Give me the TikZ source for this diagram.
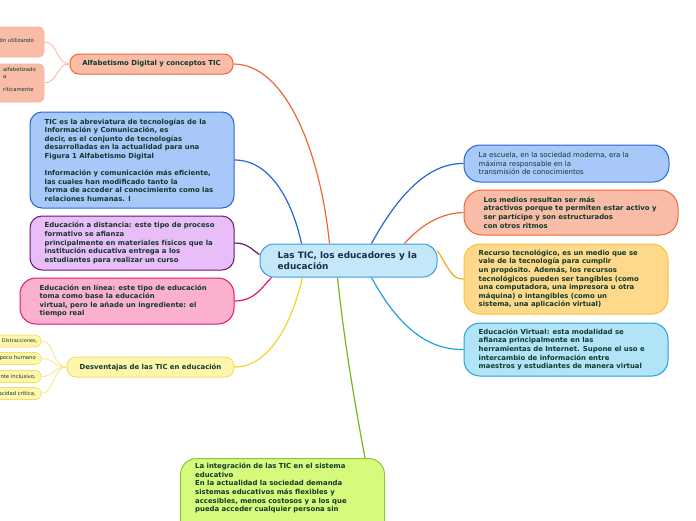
\documentclass[tikz,border=0pt]{standalone}
\usepackage{fontspec}
\setmainfont{DejaVu Sans}
\definecolor{txtc}{HTML}{0F3A2B}
\definecolor{navy}{HTML}{1C2C4C}
\definecolor{salF}{HTML}{F9BCA7}
\definecolor{salB}{HTML}{F26535}
\definecolor{salL}{HTML}{F8B39C}
\definecolor{bluF}{HTML}{A8C8FA}
\definecolor{bluB}{HTML}{2468D6}
\definecolor{purF}{HTML}{E9BDF7}
\definecolor{purB}{HTML}{651A70}
\definecolor{pnkF}{HTML}{FCB0D0}
\definecolor{pnkB}{HTML}{E2156E}
\definecolor{yelF}{HTML}{FFF6AE}
\definecolor{yelB}{HTML}{F3DE6C}
\definecolor{yelC}{HTML}{EED630}
\definecolor{yelL}{HTML}{F6E68E}
\definecolor{cenF}{HTML}{C4E8FA}
\definecolor{cenB}{HTML}{3A9CE0}
\definecolor{orgF}{HTML}{FED98B}
\definecolor{orgB}{HTML}{F6C233}
\definecolor{orgC}{HTML}{F5A623}
\definecolor{cyaF}{HTML}{B2E4F8}
\definecolor{cyaB}{HTML}{1FA1DE}
\definecolor{grnF}{HTML}{D6FA7B}
\definecolor{grnB}{HTML}{8CC63F}
\definecolor{grnC}{HTML}{7AB51D}
\tikzset{
  box/.style={rounded corners=12pt, line width=1pt, inner sep=0pt},
  pill/.style={rounded corners=9pt, line width=1pt, inner sep=0pt},
  small/.style={rounded corners=5pt, line width=0.7pt, inner sep=0pt},
  btxt/.style={font=\bfseries\fontsize{6.9}{8.6}\selectfont, text=txtc, align=left, inner sep=0pt},
  rtxt/.style={font=\fontsize{7}{8.6}\selectfont, text=txtc, align=left, inner sep=0pt},
  stxt/.style={font=\fontsize{5.3}{7}\selectfont, text=txtc, align=right, inner sep=0pt},
  conn/.style={line width=1.2pt},
  thin/.style={line width=0.8pt},
}
\begin{document}
\begin{tikzpicture}[x=1pt,y=-1pt]
\useasboundingbox (0,0) rectangle (696,520);
\clip (0,0) rectangle (696,520);
\fill[white] (0,0) rectangle (696,520);

% central
\node[box, rounded corners=14pt, fill=cenF, draw=cenB, minimum width=177, minimum height=33] (c) at (348.5,260.5) {};
\node[font=\bfseries\fontsize{8.9}{11}\selectfont, text=navy, align=left, inner sep=0pt, anchor=west] (ct) at ([xshift=18pt]c.west) {Las TIC, los educadores y la\\educación};

% top-left
\node[pill, fill=salF, draw=salB, minimum width=163, minimum height=20] (alf) at (151.5,64) {};
\node[btxt] (alft) at (alf.center) {Alfabetismo Digital y conceptos TIC};
\node[small, fill=salF, draw=salL, minimum width=70, minimum height=30] (a1) at (9,42) {};
\node[stxt, anchor=east] (a1t) at (34,40) {ón utilizando};
\node[small, fill=salF, draw=salL, minimum width=70, minimum height=38] (a2) at (9,83) {};
\node[stxt, anchor=north east, align=left] (a2t) at (36,67) {alfabetizado\\a\\[6pt]ríticamente};
\draw[thin, salL] (alf.west) .. controls (56,64) and (58,42) .. (a1.east);
\draw[thin, salL] (alf.west) .. controls (56,64) and (58,83) .. (a2.east);

% left boxes
\node[box, fill=bluF, draw=bluB, minimum width=204, minimum height=96] (tic) at (132,160) {};
\node[btxt, anchor=west] (tict) at ([xshift=15pt]tic.west) {TIC es la abreviatura de tecnologías de la\\Información y Comunicación, es\\decir, es el conjunto de tecnologías\\desarrolladas en la actualidad para una\\Figura 1 Alfabetismo Digital\\[8.6pt]Información y comunicación más eficiente,\\las cuales han modificado tanto la\\forma de acceder al conocimiento como las\\relaciones humanas. l};

\node[box, fill=purF, draw=purB, minimum width=204, minimum height=54] (dis) at (132,243) {};
\node[btxt, anchor=west] (dist) at ([xshift=15pt]dis.west) {Educación a distancia: este tipo de proceso\\formativo se afianza\\principalmente en materiales físicos que la\\institución educativa entrega a los\\estudiantes para realizar un curso};

\node[box, rounded corners=16pt, fill=pnkF, draw=pnkB, minimum width=214, minimum height=46] (lin) at (127,301) {};
\node[btxt, anchor=west] (lint) at ([xshift=20pt]lin.west) {Educación en línea: este tipo de educación\\toma como base la educación\\virtual, pero le añade un ingrediente: el\\tiempo real};

% desventajas
\node[pill, fill=yelF, draw=yelB, minimum width=167, minimum height=20] (des) at (150.5,367) {};
\node[btxt] (dest) at (des.center) {Desventajas de las TIC en educación};
\node[small, fill=yelF, draw=yelB, minimum width=60, minimum height=12] (d1) at (11,341) {};
\node[stxt, anchor=east, font=\fontsize{5}{7}\selectfont] (d1t) at (37.5,341) {Distracciones,};
\node[small, fill=yelF, draw=yelB, minimum width=60, minimum height=12] (d2) at (11,358.5) {};
\node[stxt, anchor=east] (d2t) at (36,358.5) {poco humano};
\node[small, fill=yelF, draw=yelB, minimum width=60, minimum height=12] (d3) at (11,376.5) {};
\node[stxt, anchor=east] (d3t) at (36,376.5) {nte inclusivo,};
\node[small, fill=yelF, draw=yelB, minimum width=60, minimum height=12] (d4) at (11,393.5) {};
\node[stxt, anchor=east] (d4t) at (36,393.5) {acidad crítica,};
\draw[thin, yelL] (des.west) .. controls (52,367) and (55,341) .. (d1.east);
\draw[thin, yelL] (des.west) .. controls (52,367) and (55,358.5) .. (d2.east);
\draw[thin, yelL] (des.west) .. controls (52,367) and (55,376.5) .. (d3.east);
\draw[thin, yelL] (des.west) .. controls (52,367) and (55,393.5) .. (d4.east);

% right boxes
\node[box, rounded corners=16pt, fill=bluF, draw=bluB, minimum width=205, minimum height=37] (r1) at (566.5,163.5) {};
\node[rtxt, anchor=west] (r1t) at ([xshift=15pt]r1.west) {La escuela, en la sociedad moderna, era la\\máxima responsable en la\\transmisión de conocimientos};

\node[box, rounded corners=18pt, fill=salF, draw=salB, minimum width=214, minimum height=45] (r2) at (571,212.5) {};
\node[btxt, anchor=west] (r2t) at ([xshift=20pt]r2.west) {Los medios resultan ser más\\atractivos porque te permiten estar activo y\\ser partícipe y son estructurados\\con otros ritmos};

\node[box, rounded corners=16pt, fill=orgF, draw=orgB, minimum width=204, minimum height=70] (r3) at (566,279) {};
\node[btxt, anchor=west] (r3t) at ([xshift=15pt]r3.west) {Recurso tecnológico, es un medio que se\\vale de la tecnología para cumplir\\un propósito. Además, los recursos\\tecnológicos pueden ser tangibles (como\\una computadora, una impresora u otra\\máquina) o intangibles (como un\\sistema, una aplicación virtual)};

\node[box, rounded corners=16pt, fill=cyaF, draw=cyaB, minimum width=204, minimum height=53] (r4) at (566,349.5) {};
\node[btxt, anchor=west] (r4t) at ([xshift=15pt]r4.west) {Educación Virtual: esta modalidad se\\afianza principalmente en las\\herramientas de Internet. Supone el uso e\\intercambio de información entre\\maestros y estudiantes de manera virtual};

% bottom green
\node[box, rounded corners=16pt, fill=grnF, draw=grnB, minimum width=204, minimum height=100, anchor=north west] (g) at (180,458) {};
\node[btxt, anchor=north west] (gt) at (195,463) {La integración de las TIC en el sistema\\educativo\\En la actualidad la sociedad demanda\\sistemas educativos más flexibles y\\accesibles, menos costosos y a los que\\pueda acceder cualquier persona sin};

% connectors from central
\draw[conn, salB] ([xshift=70pt]c.north west) .. controls (320,150) and (285,64) .. (alf.east);
\draw[conn, bluB] ([xshift=42pt]c.north west) .. controls (292,200) and (270,160) .. (tic.east);
\draw[conn, purB] ([yshift=6pt]c.west) .. controls (252,250) and (248,243) .. (dis.east);
\draw[conn, pnkB] ([xshift=12pt]c.south west) .. controls (262,287) and (255,301) .. (lin.east);
\draw[conn, yelC] ([xshift=43pt]c.south west) .. controls (292,322) and (270,367) .. (des.east);
\draw[conn, grnC] ([xshift=78pt]c.south west) .. controls (345,350) and (358,420) .. ([xshift=185pt]g.north west);
\draw[conn, cyaB] ([xshift=112pt]c.south west) .. controls (400,330) and (430,350) .. (r4.west);
\draw[conn, orgC] ([yshift=10pt]c.east) .. controls (450,271) and (452,279) .. (r3.west);
\draw[conn, salB] ([xshift=145pt]c.north west) .. controls (420,226) and (440,213) .. (r2.west);
\draw[conn, bluB] ([xshift=112pt]c.north west) .. controls (398,195) and (428,163) .. (r1.west);
\end{tikzpicture}
\end{document}
